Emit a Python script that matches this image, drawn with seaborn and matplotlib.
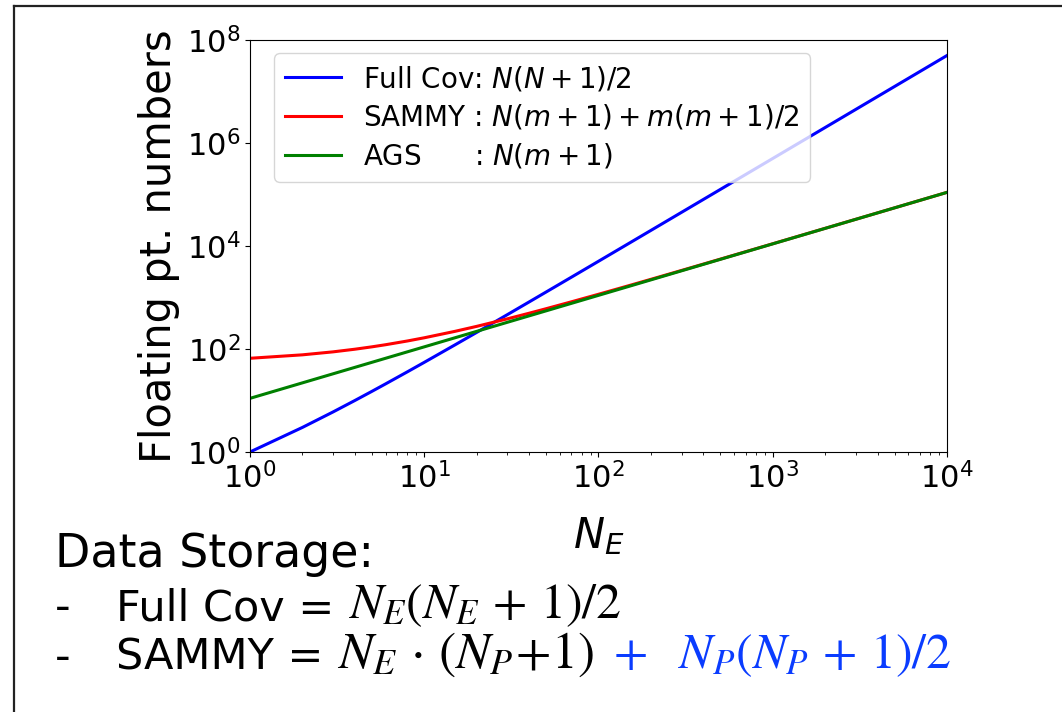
import matplotlib
matplotlib.use("Agg")
import matplotlib.pyplot as plt
import seaborn as sns
import pandas as pd
from matplotlib.lines import Line2D
from matplotlib.ticker import NullLocator

# ==========================================
# Data (number of floating point values stored, m = 10 parameters)
# ==========================================
n_e = [1, 2, 3, 4, 5, 6, 8, 10, 15, 20, 30, 40, 50, 70, 100, 150, 200,
       300, 500, 700, 1000, 2000, 5000, 10000]
full_cov = [1, 3, 6, 10, 15, 21, 36, 55, 120, 210, 465, 820, 1275, 2485,
            5050, 11325, 20100, 45150, 125250, 245350, 500500, 2001000,
            12502500, 50005000]
sammy = [66, 77, 88, 99, 110, 121, 143, 165, 220, 275, 385, 495, 605, 825,
         1155, 1705, 2255, 3355, 5555, 7755, 11055, 22055, 55055, 110055]
ags = [11, 22, 33, 44, 55, 66, 88, 110, 165, 220, 330, 440, 550, 770, 1100,
       1650, 2200, 3300, 5500, 7700, 11000, 22000, 55000, 110000]

labels = ["Full Cov: $N(N+1)/2$",
          "SAMMY : $N(m+1)+m(m+1)/2$",
          "AGS      : $N(m+1)$"]
colors = ["blue", "red", "green"]

df = pd.DataFrame({
    "N": n_e * 3,
    "count": full_cov + sammy + ags,
    "method": [labels[0]] * len(n_e) + [labels[1]] * len(n_e) + [labels[2]] * len(n_e),
})

# ==========================================
# Plot
# ==========================================
fig = plt.figure(figsize=(10.62, 7.12), dpi=100)
ax = fig.add_axes([0.2354, 0.3652, 0.6563, 0.5786])

sns.lineplot(data=df, x="N", y="count", hue="method", hue_order=labels,
             palette=colors, linewidth=2.2, ax=ax)

ax.set_xscale("log")
ax.set_yscale("log")
ax.set_xlim(1, 1e4)
ax.set_ylim(1, 1e8)
ax.set_yticks([1, 1e2, 1e4, 1e6, 1e8])
ax.yaxis.set_minor_locator(NullLocator())
ax.tick_params(labelsize=22)
ax.set_xlabel("$N_E$", fontsize=30, labelpad=15)
ax.set_ylabel("Floating pt. numbers", fontsize=30, labelpad=5)
ax.legend(loc="upper left", bbox_to_anchor=(24 / 697, 1 - 13 / 412),
          borderaxespad=0, fontsize=20, labelspacing=0.35, title=None)

# ==========================================
# Slide text below the chart
# ==========================================
txt_font = ["DejaVu Sans"]
fig.text(0.052, 0.2037, "Data Storage:", fontsize=33, family=txt_font)
fig.text(0.052, 0.1292, "-", fontsize=31, family=txt_font)
t1 = fig.text(0.109, 0.1292, "Full Cov = ", fontsize=31, family=txt_font)
ax.annotate(r"$N_E(N_E\,+\,1)/2$", xy=(1, 0), xycoords=t1, fontsize=36,
            math_fontfamily="stix", va="bottom", annotation_clip=False)
fig.text(0.052, 0.0590, "-", fontsize=31, family=txt_font)
t2 = fig.text(0.109, 0.0590, "SAMMY = ", fontsize=31, family=txt_font)
t3 = ax.annotate(r"$N_E\,\cdot\,(N_P\!+\!1)$", xy=(1, 0), xycoords=t2, fontsize=37,
                 math_fontfamily="stix", va="bottom", annotation_clip=False)
ax.annotate(r"$\ +\ \ N_P(N_P\,+\,1)/2$", xy=(1, 0), xycoords=t3, fontsize=36,
            math_fontfamily="stix", color="#0a3cff", va="bottom",
            annotation_clip=False)

# slide border
fig.add_artist(Line2D([0.0135, 0.0135], [0.991, 0.0], transform=fig.transFigure,
                      color="#222222", linewidth=1.6))
fig.add_artist(Line2D([0.0135, 1.0], [0.991, 0.991], transform=fig.transFigure,
                      color="#222222", linewidth=1.6))

fig.savefig("out.png", dpi=100)
